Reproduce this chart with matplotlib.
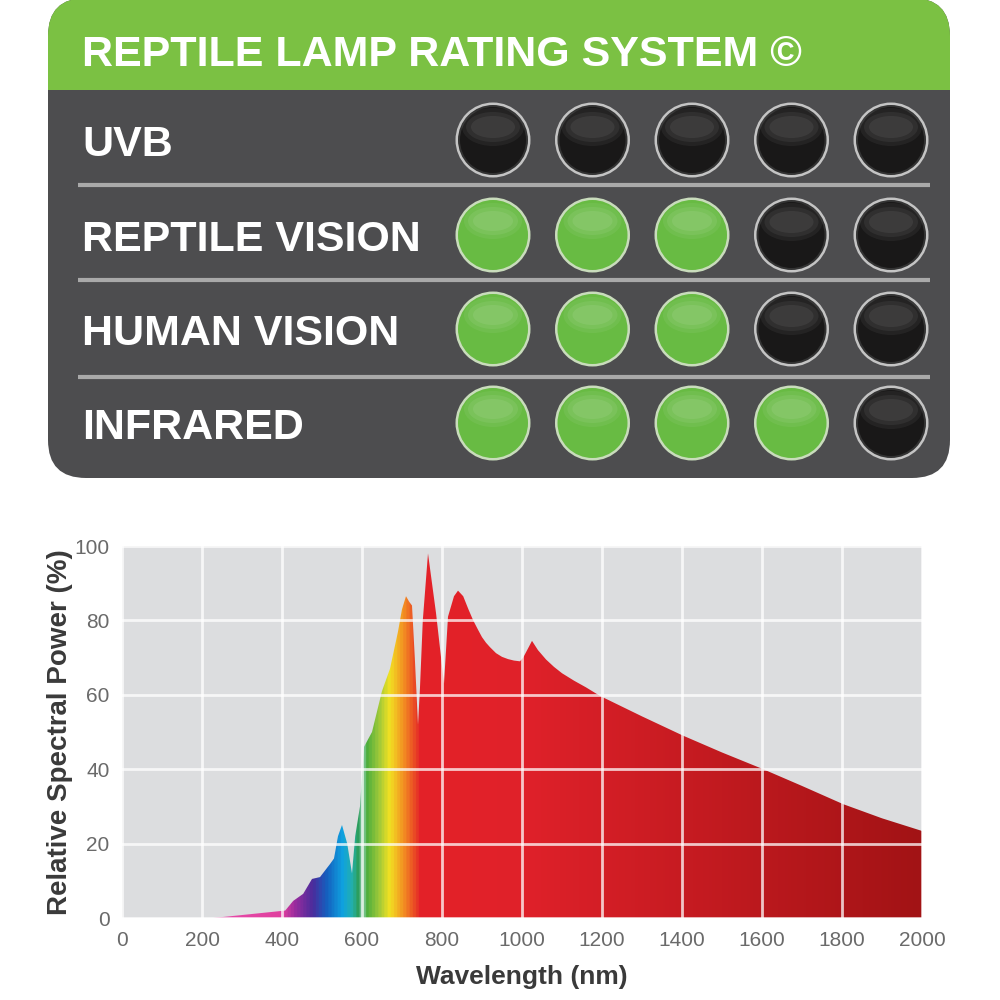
import numpy as np
import matplotlib
matplotlib.use("Agg")
import matplotlib.pyplot as plt
from matplotlib.patches import FancyBboxPatch, Rectangle, Circle, Ellipse
from matplotlib.colors import LinearSegmentedColormap

# rating panel data
title = "REPTILE LAMP RATING SYSTEM ©"
rows = ["UVB", "REPTILE VISION", "HUMAN VISION", "INFRARED"]
ratings = [0, 3, 3, 4]
max_rating = 5

# spectrum data
wavelength = [228, 300, 408, 428, 453, 475, 495, 520, 530, 540, 550, 563, 575,
              583, 595, 605, 625, 650, 660, 670, 690, 700, 710, 718, 725, 732,
              740, 745, 752, 765, 775, 785, 805, 815, 830, 840, 853, 866, 878,
              890, 900, 910, 920, 935, 950, 965, 980, 995, 1003, 1025, 1040,
              1060, 1080, 1100, 1130, 1160, 1195, 1300, 1403, 1500, 1603, 1700,
              1803, 1900, 2000]
power = [0, 0.8, 2, 4.6, 6.5, 10.5, 11, 14.5, 16, 22, 25, 20, 12,
         22, 30, 46, 50, 61, 64, 67, 77, 83, 86.5, 85, 84, 70,
         52, 62, 80, 98, 90, 82, 63, 81, 86.5, 88, 86.5, 83, 80,
         77.5, 75.5, 74, 72.8, 71.2, 70.2, 69.6, 69.2, 69, 70, 74.5, 72,
         69.5, 67.5, 65.8, 63.8, 62, 59.7, 54.2, 49, 44.5, 40, 35.5,
         30.6, 26.8, 23.4]

x_ticks = list(range(0, 2001, 200))
y_ticks = list(range(0, 101, 20))

fig = plt.figure(figsize=(10, 10), dpi=100)
fig.patch.set_facecolor("white")

head_font = ["Liberation Sans", "DejaVu Sans"]

# ---- top panel, drawn in pixel coordinates
ax0 = fig.add_axes([0, 0.5, 1, 0.5])
ax0.set_xlim(0, 1000)
ax0.set_ylim(500, 0)
ax0.axis("off")

panel = FancyBboxPatch((48, -2), 902, 480, boxstyle="round,pad=0,rounding_size=38",
                       fc="#4d4d4f", ec="none")
ax0.add_patch(panel)
header = Rectangle((0, -10), 1000, 100, fc="#7bc143", ec="none")
ax0.add_patch(header)
header.set_clip_path(panel)

ax0.text(82, 66, title, color="white", fontsize=31, fontweight="bold",
         family=head_font, va="baseline", ha="left")

row_y = [140, 235, 329, 423]
for yy in [185, 280, 377]:
    ax0.plot([78, 930], [yy, yy], color="#a9a9a9", lw=3, solid_capstyle="butt")

for i, name in enumerate(rows):
    cy = row_y[i]
    ax0.text(82, cy + 16, name, color="white", fontsize=31, fontweight="bold",
             family=head_font, va="baseline", ha="left")
    for j in range(max_rating):
        cx = 493 + 99.5 * j
        if j < ratings[i]:
            ax0.add_patch(Circle((cx, cy), 37.5, fc="#c9dcbc", ec="none"))
            ax0.add_patch(Circle((cx, cy), 35, fc="#68bb43", ec="none"))
            for w, h, a in [(58, 36, 0.06), (50, 28, 0.07), (40, 20, 0.08)]:
                ax0.add_patch(Ellipse((cx, cy - 14), w, h, fc="white", alpha=a, ec="none"))
        else:
            ax0.add_patch(Circle((cx, cy), 37.5, fc="#c4c4c4", ec="none"))
            ax0.add_patch(Circle((cx, cy), 35, fc="#333333", ec="none"))
            ax0.add_patch(Circle((cx, cy), 33, fc="#191818", ec="none"))
            for w, h, a in [(62, 38, 0.10), (54, 30, 0.12), (44, 22, 0.14)]:
                ax0.add_patch(Ellipse((cx, cy - 13), w, h, fc="#8a8a8a", alpha=a, ec="none"))

# ---- spectrum chart
ax = fig.add_axes([0.122, 0.082, 0.800, 0.372])
ax.set_facecolor("#dcdddf")
ax.set_xlim(0, 2000)
ax.set_ylim(0, 100)

stops = [(0, "#f25ab8"), (400, "#e0409f"), (430, "#9a2c9e"), (475, "#4a2c9c"),
         (510, "#1560bf"), (550, "#0fa2e0"), (575, "#25b0a8"), (592, "#2e9a4a"),
         (600, "#9fd8c8"), (608, "#45ab3c"), (640, "#9cc83a"), (668, "#f2e122"),
         (705, "#f38a22"), (745, "#e42228"), (1000, "#e0212a"), (2000, "#a21315")]
cmap = LinearSegmentedColormap.from_list("spec", [(p / 2000, c) for p, c in stops])
grad = np.linspace(0, 1, 2000)[None, :]
im = ax.imshow(grad, cmap=cmap, extent=[0, 2000, 0, 100], aspect="auto",
               origin="lower", zorder=1, interpolation="bilinear")
poly = ax.fill_between(wavelength, power, 0, color="none", lw=0)
im.set_clip_path(poly.get_paths()[0], transform=ax.transData)

ax.set_xticks(x_ticks)
ax.set_yticks(y_ticks)
ax.grid(True, color="white", lw=2, alpha=0.75, zorder=3)
ax.set_axisbelow(False)
for s in ax.spines.values():
    s.set_visible(False)
ax.tick_params(length=0, labelsize=15, labelcolor="#6a6a6a", pad=9)
for lab in ax.get_xticklabels() + ax.get_yticklabels():
    lab.set_family(["Liberation Sans", "DejaVu Sans"])

ax.set_xlabel("Wavelength (nm)", fontsize=19, fontweight="bold", color="#3a3a3a",
              family=["Liberation Sans", "DejaVu Sans"])
ax.set_ylabel("Relative Spectral Power (%)", fontsize=20, fontweight="bold",
              color="#3a3a3a", family=["Liberation Sans", "DejaVu Sans"])
ax.xaxis.set_label_coords(0.5, -0.126)
ax.yaxis.set_label_coords(-0.061, 0.5)

fig.savefig("out.png", dpi=100)
